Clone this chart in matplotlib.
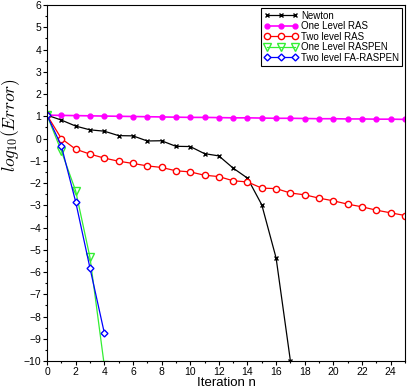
import numpy as np
import matplotlib.pyplot as plt
from matplotlib.ticker import MultipleLocator

plt.rcParams['font.family'] = ['Liberation Sans', 'DejaVu Sans']
plt.rcParams['mathtext.fontset'] = 'cm'

# Data
newton_x = list(range(0, 18))
newton_y = [1.05, 0.83, 0.56, 0.39, 0.33, 0.13, 0.12, -0.11, -0.10, -0.35,
            -0.36, -0.68, -0.78, -1.33, -1.78, -2.98, -5.37, -10.0]

ras1_x = list(range(0, 26))
ras1_y = [1.05, 1.04, 1.03, 1.02, 1.01, 1.0, 0.99, 0.98, 0.97, 0.96,
          0.95, 0.95, 0.94, 0.93, 0.93, 0.92, 0.91, 0.91, 0.90, 0.89,
          0.89, 0.88, 0.88, 0.87, 0.87, 0.86]

ras2_x = list(range(0, 26))
ras2_y = [1.05, 0.0, -0.48, -0.70, -0.88, -1.02, -1.12, -1.23, -1.30, -1.45,
          -1.50, -1.65, -1.71, -1.90, -1.95, -2.23, -2.25, -2.45, -2.53, -2.68,
          -2.80, -2.95, -3.07, -3.22, -3.34, -3.46]

raspen1_x = [0, 1, 2, 3, 4]
raspen1_y = [1.05, -0.56, -2.35, -5.34, -10.2]

faraspen2_x = [0, 1, 2, 3, 4]
faraspen2_y = [1.05, -0.33, -2.84, -5.82, -8.73]

my_dpi = 100
fig = plt.figure(figsize=(407 / my_dpi, 388 / my_dpi), dpi=my_dpi)
ax = fig.add_axes([0.1155, 0.0696, 0.8795, 0.9174])

ax.plot(newton_x, newton_y, color='black', marker='x', markersize=3.5,
        linewidth=0.9, label='Newton')
ax.plot(ras1_x, ras1_y, color='magenta', marker='o', markersize=3.5,
        linewidth=1.2, label='One Level RAS')
ax.plot(ras2_x, ras2_y, color='red', marker='o', markersize=4.5,
        markerfacecolor='white', linewidth=0.9, label='Two level RAS')
ax.plot(raspen1_x, raspen1_y, color='#33ee33', marker='v', markersize=6,
        markerfacecolor='none', linewidth=0.9, label='One Level RASPEN')
ax.plot(faraspen2_x, faraspen2_y, color='blue', marker='D', markersize=3.5,
        markerfacecolor='white', linewidth=0.9, label='Two level FA-RASPEN')

ax.set_xlim(0, 25)
ax.set_ylim(-10, 6)
ax.xaxis.set_major_locator(MultipleLocator(2))
ax.xaxis.set_minor_locator(MultipleLocator(1))
ax.yaxis.set_major_locator(MultipleLocator(1))
ax.yaxis.set_minor_locator(MultipleLocator(0.5))
ax.tick_params(which='major', length=3, width=0.8, labelsize=7.5, pad=1)
ax.tick_params(which='minor', length=1.5, width=0.8)

ax.set_xlabel('Iteration n', fontsize=9.5, labelpad=0)
ax.set_ylabel(r'$log_{10}(Error)$', fontsize=12.5)
ax.yaxis.set_label_coords(-0.07, 0.663)

leg = ax.legend(loc='upper right', fontsize=7, fancybox=False, framealpha=1,
                edgecolor='black', handlelength=3.5, handletextpad=0.3,
                labelspacing=0.05, borderpad=0.3, borderaxespad=0.3,
                numpoints=3)
leg.get_frame().set_linewidth(0.8)

plt.savefig('out.png', dpi=my_dpi)
